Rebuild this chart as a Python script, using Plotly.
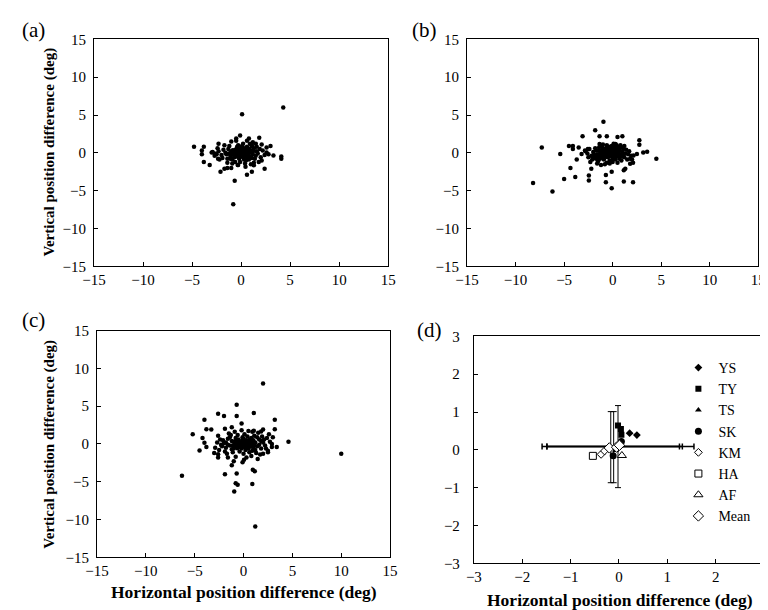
import plotly.graph_objects as go

# ---------------- data ----------------
# panel (a)
a_x = [0.0,0.2,-0.2,0.4,-0.4,0.1,0.3,-0.1,0.5,-0.5,0.6,-0.3,0.2,0.7,-0.6,0.0,0.8,-0.8,0.4,-0.2,
       0.9,-0.7,0.3,1.0,-1.0,0.1,0.6,-0.4,1.2,-1.1,0.5,-0.3,1.3,-1.3,0.8,-0.9,1.5,-1.5,0.2,-0.1,
       1.1,-1.2,1.6,-1.6,0.9,-0.6,1.4,-1.4,0.0,0.15,-0.05,0.35,-0.35,0.25,-0.25,0.45,-0.15,0.05,0.55,-0.55,
       0.65,-0.65,0.1,0.3,-0.1,0.7,-0.45,0.85,-0.85,0.2,1.7,1.9,2.0,-1.8,-2.0,-1.9,2.2,-2.3,1.8,-1.7,
       2.4,-2.5,1.2,-1.0,0.6,-0.5,1.0,-0.9,0.4,-0.3,2.6,-2.7,2.8,-2.9,1.5,-1.4,1.3,2.1,-2.2,-2.4,
       1.6,1.1,-1.1,0.95,-0.95,1.25,-1.25,0.75,-0.75,0.45,-0.2,0.1,0.3,-0.3,0.0,0.5,-0.5,0.6,-0.6,0.2,
       4.3,0.1,-4.8,-3.8,-4.0,-4.0,-3.8,-3.2,-2.1,-1.7,-1.4,-0.65,-0.8,0.6,1.1,2.4,1.85,-0.1,-0.5,0.8,
       1.1,3.0,3.3,4.1,4.1,-2.3,-3.0,-2.7,-2.35,2.1,2.6,1.3,0.45,-0.35,-1.0]
a_y = [0.0,0.1,0.2,-0.1,-0.2,0.4,0.3,-0.4,0.2,0.1,-0.3,-0.5,-0.6,0.4,0.4,0.6,0.0,-0.1,0.6,-0.8,
       -0.5,-0.6,-0.9,0.3,0.2,0.9,0.8,0.8,-0.2,-0.4,-1.0,1.0,0.6,0.5,-0.9,-0.9,-0.4,-0.2,1.2,-1.2,
       1.0,0.9,0.2,0.0,1.2,-1.2,-0.8,-0.8,0.3,-0.25,0.15,0.05,0.0,-0.35,-0.15,0.35,0.45,-0.5,-0.15,-0.35,
       0.15,0.2,0.7,-0.3,-0.1,-0.6,0.55,0.55,0.35,0.5,-0.1,0.5,-0.6,0.4,-0.3,-0.7,0.3,0.2,-1.2,1.0,
       -0.3,-0.2,1.4,1.5,1.6,1.6,-1.5,-1.4,-1.4,-1.6,0.7,-0.1,-0.2,0.1,1.2,-1.3,-1.3,1.1,-0.9,0.6,
       0.8,-0.7,-0.8,0.1,0.05,0.25,-0.1,-0.25,-0.3,-0.7,0.0,-0.15,0.15,0.3,-0.3,0.5,-0.5,0.0,-0.1,0.25,
       6.0,5.1,0.8,0.8,0.3,-0.2,-1.2,-1.6,-2.5,-2.1,-2.0,-3.7,-6.8,-2.9,-2.5,-2.1,2.0,2.3,1.9,1.9,
       0.9,0.9,-0.35,-0.5,-0.8,1.2,0.05,-0.4,-0.8,-1.0,0.05,-1.65,-1.85,-1.6,-2.0]

# panel (b)
b_x = [0.0,-0.2,0.2,-0.4,0.3,-0.6,0.1,-0.3,0.5,-0.8,-0.1,0.4,-1.0,0.7,-0.5,0.2,-1.2,0.8,-0.7,0.0,
       -1.4,1.0,-0.9,0.6,-1.6,1.2,-0.3,0.4,-1.8,1.4,-2.0,-1.1,0.9,-2.2,1.6,-0.6,0.1,-1.5,1.8,-2.4,
       -0.2,0.15,-0.45,0.35,-0.15,0.05,-0.7,0.55,-0.35,0.25,-0.85,0.65,-1.05,0.45,-0.55,-1.3,-1.7,-1.9,-2.1,-1.3,
       -2.6,-2.3,-1.6,-1.2,-0.8,-2.8,-2.5,-1.0,-1.4,-1.8,0.9,1.1,1.3,1.5,1.7,1.9,2.0,2.1,0.7,1.0,
       -0.1,-0.4,-0.6,0.3,0.0,-0.3,0.5,0.8,1.2,-1.0,-0.2,0.1,-0.05,0.25,-0.3,0.4,-0.5,0.6,-0.65,0.15,
       -0.9,-1.1,-1.5,-1.7,-2.0,-1.2,-0.8,0.9,1.1,-0.1,
       -0.95,-1.8,-3.1,-1.35,-0.6,0.5,1.0,2.75,2.75,3.55,4.5,-7.3,-5.4,-4.5,-4.1,-4.1,-3.7,-4.35,-3.85,-5.0,
       -8.2,-6.2,-2.45,-2.45,-2.2,-0.7,-0.7,-0.1,-0.1,1.15,2.1,1.15,1.3,1.8,2.15,2.5,3.15,-3.2,-3.5,-2.85,
       -2.55,-1.35,0.3]
b_y = [0.0,0.2,-0.1,-0.2,0.3,0.1,-0.4,0.5,0.0,-0.3,0.6,-0.5,0.0,0.3,-0.6,0.7,-0.5,-0.3,0.6,-0.8,
       0.3,0.1,-0.9,0.8,-0.2,-0.6,-1.0,1.0,-0.7,0.4,0.1,0.8,-1.0,-0.4,-0.2,-1.3,1.2,-1.1,-0.8,0.5,
       -0.3,0.15,0.05,-0.2,0.35,-0.55,-0.1,0.45,-0.45,0.5,0.3,-0.15,-0.35,0.2,0.4,-0.1,0.3,-0.3,-0.9,-0.8,
       -0.1,-1.2,-1.4,-1.6,-1.5,0.2,-0.6,0.5,0.7,0.6,0.7,0.5,-0.1,-0.9,0.2,-0.4,-0.9,-1.3,-0.8,-0.5,
       0.9,0.8,1.0,-0.9,-1.2,-1.4,-1.3,1.0,0.9,1.1,0.1,0.05,-0.15,0.25,-0.05,0.1,-0.25,-0.4,-0.5,-0.25,
       -0.6,-0.2,-0.5,-0.8,-0.6,0.2,0.0,-0.2,-0.3,0.4,
       4.1,3.0,2.2,2.2,2.2,2.1,2.2,1.65,1.05,0.15,-0.8,0.7,-0.15,0.9,0.9,0.5,-0.9,-2.0,-3.2,-3.45,
       -4.0,-5.1,-3.0,-3.65,-2.1,-2.95,-3.9,-4.7,-2.5,-3.8,-3.9,-2.3,-2.1,-1.45,-0.35,-0.15,0.05,-0.15,0.7,0.3,
       0.5,1.15,1.15]

# panel (c)
c_x = [0.0,0.2,-0.2,0.4,-0.4,0.1,0.3,-0.3,0.6,-0.6,0.0,0.7,-0.7,0.5,-0.5,0.9,-0.9,0.2,-0.1,1.0,
       -1.0,0.8,-0.8,1.2,-1.2,0.4,-0.4,1.4,-1.4,0.6,-0.6,1.1,-1.1,1.6,-1.6,0.1,0.0,1.8,-1.8,1.3,
       -1.3,2.0,-2.0,1.9,-1.9,2.2,-2.2,0.9,-0.9,0.5,-0.2,1.5,-1.5,0.8,-0.8,2.4,-2.4,2.5,-2.5,0.3,
       0.1,-0.1,0.25,-0.25,0.35,-0.35,0.15,-0.15,0.5,-0.5,0.65,-0.65,0.75,-0.75,0.05,0.3,-0.45,0.55,0.45,-0.2,
       2.7,-2.7,2.9,-2.9,2.6,-2.6,3.0,-3.0,1.7,-1.7,1.0,-1.0,1.2,-1.2,0.9,-0.9,1.4,-1.4,1.6,-1.6,
       0.2,-0.1,0.3,-0.3,0.0,0.4,-0.4,0.6,0.7,-0.6,2.1,-2.1,2.3,-2.3,1.8,-1.8,1.1,-1.1,0.8,-0.8,
       2.0,10.0,-6.3,1.2,-0.7,1.05,-2.6,-2.0,-4.0,-0.7,3.2,3.2,4.6,-5.2,-3.8,-3.3,-0.2,-1.9,-1.2,-4.2,
       -4.0,-4.5,-3.8,-2.6,-2.6,-1.6,-1.0,-1.2,-1.9,-0.7,-0.1,0.05,0.95,1.15,-0.8,-0.6,-0.95,0.9,1.45,2.0,
       2.5,3.4,2.9,2.0,1.8,1.05]
c_y = [0.0,0.2,-0.1,0.0,0.2,-0.4,0.5,-0.4,-0.2,0.3,0.7,0.4,-0.3,-0.6,0.6,0.1,0.0,-0.8,0.9,-0.5,
       -0.6,0.8,0.8,0.2,0.4,1.0,-1.0,-0.3,-0.2,-1.1,1.2,1.1,-1.1,0.6,0.7,1.3,-1.3,-0.6,-0.5,-1.2,
       1.2,0.2,0.1,1.0,-1.0,-0.2,-0.3,1.6,1.6,1.7,1.8,1.5,1.4,-1.6,-1.7,0.8,0.6,-0.9,-0.8,-1.8,
       0.1,0.25,-0.2,0.05,0.3,-0.2,-0.3,0.4,0.15,-0.1,0.6,-0.55,-0.35,0.45,0.5,-0.55,0.0,0.3,-0.3,-0.6,
       0.3,0.2,-0.4,-0.5,1.3,1.1,0.9,-1.2,-1.4,-1.3,0.5,0.3,-0.8,-0.7,-0.9,-0.4,0.9,0.9,-0.1,-0.1,
       0.0,-0.2,0.1,0.1,-0.1,0.35,-0.35,0.0,-0.1,0.1,0.6,0.5,-0.6,-0.1,0.4,0.2,-0.2,-0.2,0.2,-0.2,
       8.0,-1.3,-4.2,-10.9,5.2,4.1,4.0,3.7,3.2,3.7,3.2,1.95,0.3,1.3,1.95,1.9,2.7,2.0,2.2,0.8,
       0.15,-0.85,-0.4,-1.35,-1.8,-1.8,-2.3,-2.8,-4.0,-3.9,-2.4,-2.1,-3.4,-3.6,-5.2,-5.4,-6.3,-5.3,-2.0,-1.3,
       -1.1,-0.4,0.0,1.9,1.65,1.75]

# panel (d): per-subject means
d_series = ["YS", "TY", "TS", "SK", "KM", "HA", "AF", "Mean"]
d_x = {"YS": [0.22, 0.37], "TY": [-0.02, 0.04, 0.05], "TS": [-0.07, 0.02],
       "SK": [0.05, -0.12], "KM": [-0.37, -0.30], "HA": [-0.54],
       "AF": [0.06], "Mean": [-0.20, -0.05, 0.01]}
d_y = {"YS": [0.44, 0.39], "TY": [0.64, 0.55, 0.40], "TS": [-0.02, 0.10],
       "SK": [0.22, -0.16], "KM": [-0.12, -0.03], "HA": [-0.16],
       "AF": [-0.15], "Mean": [0.05, 0.07, 0.12]}
# error bars (SD)
eb_x = [-0.17, -0.11, -0.02]
eb_y = [0.09, 0.09, 0.09]
eb_x_minus = [1.32, 1.38, 1.57]
eb_x_plus = [1.42, 1.42, 1.57]
eb_y_minus = [0.96, 0.96, 1.09]
eb_y_plus = [0.92, 0.92, 1.08]

big_ticks = [-15, -10, -5, 0, 5, 10, 15]
small_ticks = [-3, -2, -1, 0, 1, 2, 3]

# ---------------- figure ----------------
SERIF = "Liberation Serif, Times New Roman, serif"
fig = go.Figure()

dot = dict(size=4.5, color="black")
fig.add_trace(go.Scatter(x=a_x, y=a_y, mode="markers", marker=dot, showlegend=False, xaxis="x", yaxis="y"))
fig.add_trace(go.Scatter(x=b_x, y=b_y, mode="markers", marker=dot, showlegend=False, xaxis="x2", yaxis="y2"))
fig.add_trace(go.Scatter(x=c_x, y=c_y, mode="markers", marker=dot, showlegend=False, xaxis="x3", yaxis="y3"))

# error bars for panel d
fig.add_trace(go.Scatter(
    x=eb_x, y=eb_y, mode="markers", marker=dict(size=1, color="rgba(0,0,0,0)"),
    error_x=dict(type="data", symmetric=False, array=eb_x_plus, arrayminus=eb_x_minus,
                 color="black", thickness=1.5, width=3),
    error_y=dict(type="data", symmetric=False, array=eb_y_plus, arrayminus=eb_y_minus,
                 color="black", thickness=1, width=3),
    showlegend=False, xaxis="x4", yaxis="y4", hoverinfo="skip"))

styles = {
    "YS": dict(symbol="diamond", size=6, color="black"),
    "TY": dict(symbol="square", size=6, color="black"),
    "TS": dict(symbol="triangle-up", size=6, color="black"),
    "SK": dict(symbol="circle", size=7, color="black"),
    "KM": dict(symbol="diamond", size=6, color="white", line=dict(color="black", width=1)),
    "HA": dict(symbol="square", size=7, color="white", line=dict(color="black", width=1)),
    "AF": dict(symbol="triangle-up", size=8, color="white", line=dict(color="black", width=1)),
    "Mean": dict(symbol="diamond", size=8, color="white", line=dict(color="black", width=1)),
}
for name in d_series:
    fig.add_trace(go.Scatter(x=d_x[name], y=d_y[name], mode="markers", name=name,
                             marker=styles[name], xaxis="x4", yaxis="y4"))

tickfont = dict(family=SERIF, size=15, color="black")

def xax(domain, anchor, rng, ticks):
    return dict(domain=domain, anchor=anchor, range=rng, tickvals=ticks, showgrid=False,
                zeroline=False, showline=True, linecolor="black", linewidth=1, mirror=True,
                ticks="inside", ticklen=4, tickcolor="black", tickfont=tickfont,
                ticklabelstandoff=0, fixedrange=True)

def yax(domain, anchor, rng, ticks, standoff=4):
    return dict(domain=domain, anchor=anchor, range=rng, tickvals=ticks, showgrid=False,
                zeroline=False, showline=True, linecolor="black", linewidth=1, mirror=True,
                ticks="inside", ticklen=4, tickcolor="black", tickfont=tickfont,
                ticklabelstandoff=standoff, fixedrange=True)

W, H = 768, 610
def dx(p0, p1):
    return [p0 / W, p1 / W]
def dy(p0, p1):
    return [1 - p1 / H, 1 - p0 / H]

fig.update_layout(
    width=W, height=H, margin=dict(l=0, r=0, t=0, b=0),
    paper_bgcolor="white", plot_bgcolor="white",
    font=dict(family=SERIF, color="black"),
    xaxis=xax(dx(76, 378), "y", [-15, 15], big_ticks),
    yaxis=yax(dy(24, 257), "x", [-15, 15], big_ticks),
    xaxis2=xax(dx(459, 758), "y2", [-15, 15], big_ticks),
    yaxis2=yax(dy(24, 257), "x2", [-15, 15], big_ticks),
    xaxis3=xax(dx(79, 380), "y3", [-15, 15], big_ticks),
    yaxis3=yax(dy(323, 556), "x3", [-15, 15], big_ticks),
    xaxis4=xax(dx(466, 764), "y4", [-3, 3], small_ticks),
    yaxis4=yax(dy(329, 562), "x4", [-3, 3], small_ticks, standoff=10),
    legend=dict(x=676 / W, y=1 - 345 / H, xanchor="left", yanchor="top",
                font=dict(family=SERIF, size=14, color="black"),
                bgcolor="rgba(0,0,0,0)", tracegroupgap=0, itemwidth=30),
    showlegend=True,
)

vbold = dict(family=SERIF, size=15, color="black", weight="bold")
hbold = dict(family=SERIF, size=17.5, color="black", weight="bold")
plab = dict(family=SERIF, size=21, color="black")
ann = [
    dict(text="(a)", x=0 / W, y=1 - 0 / H, xanchor="left", yanchor="top", font=plab),
    dict(text="(b)", x=400 / W, y=1 - 0 / H, xanchor="left", yanchor="top", font=plab),
    dict(text="(c)", x=0 / W, y=1 - 298 / H, xanchor="left", yanchor="top", font=plab),
    dict(text="(d)", x=406 / W, y=1 - 308 / H, xanchor="left", yanchor="top", font=plab),
    dict(text="Vertical position difference (deg)", x=30 / W, y=1 - 140 / H, textangle=-90,
         xanchor="center", yanchor="middle", font=vbold),
    dict(text="Vertical position difference (deg)", x=30 / W, y=1 - 440 / H, textangle=-90,
         xanchor="center", yanchor="middle", font=vbold),
    dict(text="Horizontal position difference (deg)", x=230 / W, y=1 - 592 / H,
         xanchor="center", yanchor="middle", font=hbold),
    dict(text="Horizontal position difference (deg)", x=616 / W, y=1 - 600 / H,
         xanchor="center", yanchor="middle", font=hbold),
]
for a in ann:
    a.update(xref="paper", yref="paper", showarrow=False)
fig.update_layout(annotations=ann)

fig.write_html("out.html")
